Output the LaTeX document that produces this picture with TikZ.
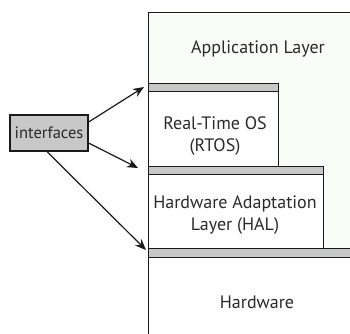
\documentclass[tikz,border=0pt]{standalone}
\usepackage{fontspec}
\setmainfont{PT Sans}
\usetikzlibrary{arrows.meta}
\definecolor{appbg}{HTML}{FAFCF8}
\definecolor{bargray}{HTML}{C8C8C8}
\definecolor{ink}{HTML}{1A1A1A}
\definecolor{txt}{HTML}{2A2A2A}
\begin{document}
\begin{tikzpicture}[x=1pt,y=-1pt,
  layer/.style={draw=ink, line width=1.2pt, fill=white, anchor=north west, inner sep=0pt},
  ifbar/.style={draw=ink, line width=1.2pt, fill=bargray, anchor=north west, inner sep=0pt},
  lbl/.style={text=txt, font=\fontsize{18}{22}\selectfont, align=center},
  conn/.style={draw=ink, line width=1.2pt, -{Stealth[length=11pt,width=9pt]}}]
\useasboundingbox (0,0) rectangle (350,333);
\clip (0,0) rectangle (350,333);
\node[layer, fill=appbg, minimum width=220pt, minimum height=340pt] (app) at (148,12) {};
\node[ifbar, minimum width=130pt, minimum height=7.5pt] (rtosif) at (148,83) {};
\node[layer, minimum width=130pt, minimum height=75pt] (rtos) at (148,90.5) {};
\node[ifbar, minimum width=175pt, minimum height=8.5pt] (halif) at (148,165.5) {};
\node[layer, minimum width=175pt, minimum height=74pt] (hal) at (148,174) {};
\node[ifbar, minimum width=220pt, minimum height=8.5pt] (hwif) at (148,248) {};
\node[layer, minimum width=220pt, minimum height=90pt] (hw) at (148,256.5) {};
\node[lbl] (applbl) at (258,49) {Application Layer};
\node[lbl] (rtoslbl) at (215,136) {Real-Time OS\\(RTOS)};
\node[lbl] (hallbl) at (235,215) {Hardware Adaptation\\Layer (HAL)};
\node[lbl] (hwlbl) at (257,302) {Hardware};
\node[draw=ink, line width=1.2pt, fill=bargray, minimum width=78pt, minimum height=36pt, inner sep=0pt, lbl, font=\fontsize{16.5}{20}\selectfont] (ifc) at (49,133) {interfaces};
\coordinate (t1) at (144,87);
\coordinate (t2) at (138,168);
\coordinate (t3) at (146,250);
\draw[conn] (ifc.east |- 0,122) -- (t1);
\draw[conn] (ifc.east |- 0,143) -- (t2);
\draw[conn] (ifc.south -| 47,0) -- (t3);
\end{tikzpicture}
\end{document}
